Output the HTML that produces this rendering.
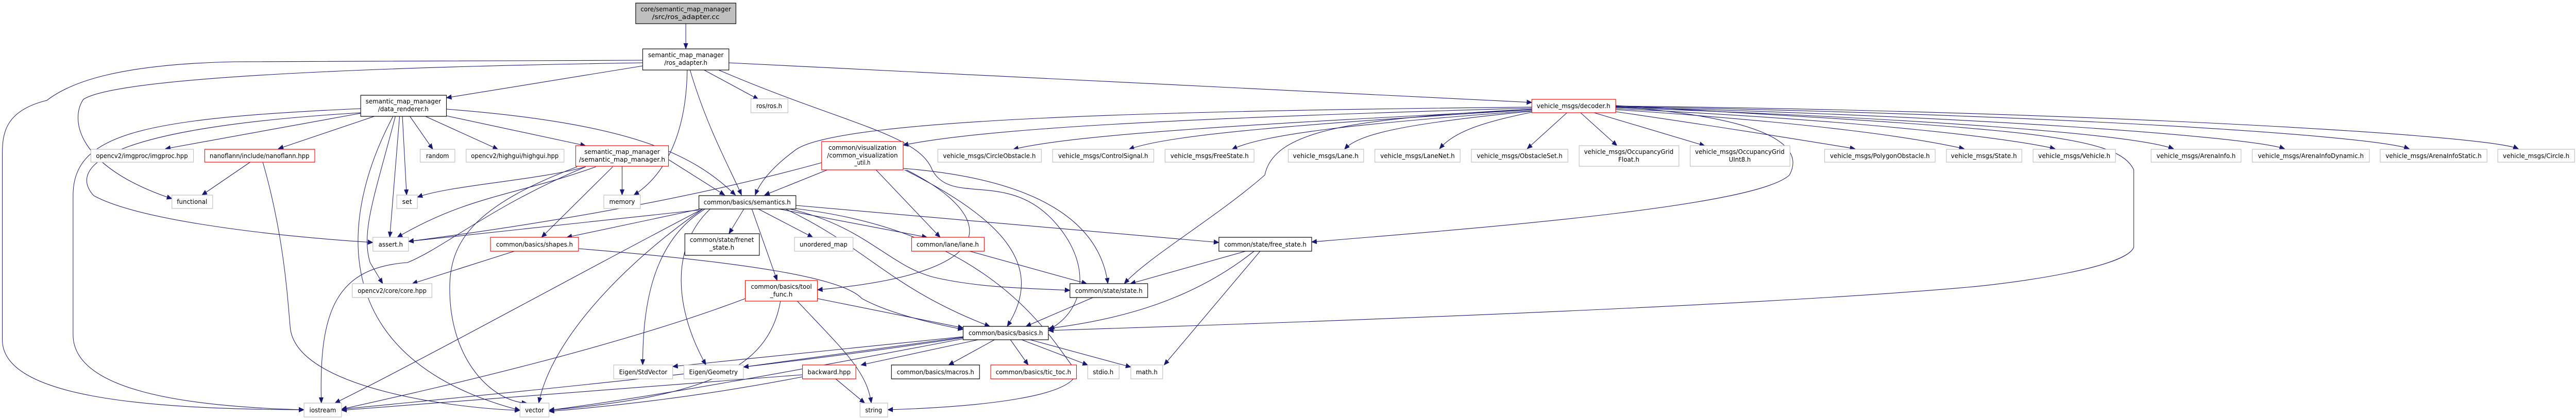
<!DOCTYPE html>
<html><head><meta charset="utf-8"><style>
html,body{margin:0;padding:0;background:#fff;overflow:hidden;}
svg{display:block;width:100vw;height:100vh;}
text{font-family:"DejaVu Sans","Liberation Sans",sans-serif;font-size:12.5px;fill:#000;}
.e{fill:none;stroke:#191970;stroke-width:1.1;}
.k{fill:#fff;stroke:#000;stroke-width:1.2;}
.g{fill:#fff;stroke:#bfbfbf;stroke-width:1.2;}
.r{fill:#fff;stroke:#ff0000;stroke-width:1.2;}
</style></head><body>
<svg viewBox="0 0 5499 812" preserveAspectRatio="none" xmlns="http://www.w3.org/2000/svg">
<defs><marker id="a" markerUnits="userSpaceOnUse" markerWidth="12" markerHeight="10" refX="11" refY="5" orient="auto"><path d="M0,0 L12,5 L0,10 Z" fill="#191970"/></marker></defs>
<g class="e" marker-end="url(#a)">
<path d="M1464,46 L1464,95"/>
<path d="M1503,136 L1619,193"/>
<path d="M1473,136 C1510,250 1560,330 1583,379"/>
<path d="M1467,136 C1465,260 1420,340 1353,379"/>
<path d="M1556,122 L3270,199"/>
<path d="M1534,136 C1800,240 1960,260 1990,330 C2030,400 2150,330 2250,430 C2330,510 2320,600 2240,640"/>
<path d="M1372,128 L953,190"/>
<path d="M1372,117 L500,120 C250,125 150,160 100,195 C10,215 5,260 5,300 L5,660 C5,770 300,795 649,796"/>
<path d="M1372,122 C800,130 250,150 178,193 C150,230 160,323 367,386"/>
<path d="M770,220 L353,289"/>
<path d="M799,226 L594,289"/>
<path d="M875,226 L924,290"/>
<path d="M908,226 L1063,290"/>
<path d="M953,225 L1250,283"/>
<path d="M859,226 L868,379"/>
<path d="M853,226 L832,461"/>
<path d="M844,226 C800,380 770,450 790,510 L817,551"/>
<path d="M839,226 C720,430 700,700 1110,797"/>
<path d="M770,211 C300,230 156,260 156,380 L156,650 C156,760 400,790 649,796"/>
<path d="M770,219 C200,250 150,330 200,380 C300,430 600,460 796,471"/>
<path d="M953,212 C1350,240 1480,300 1570,379"/>
<path d="M534,315 L431,379"/>
<path d="M561,315 C610,470 615,600 620,640 C640,760 1000,795 1110,797"/>
<path d="M1328,323 L1328,379"/>
<path d="M1250,324 C1150,350 960,360 891,383"/>
<path d="M1272,324 C1100,380 1000,380 848,461"/>
<path d="M1308,324 L1156,461"/>
<path d="M1250,324 C1050,400 950,480 870,510 C720,520 680,600 686,783"/>
<path d="M1232,324 C1010,400 960,470 960,560 C960,700 1050,780 1125,783"/>
<path d="M1427,310 L1547,379"/>
<path d="M1098,488 L880,551"/>
<path d="M1235,483 C1600,510 1800,540 1840,580 C1900,610 2000,630 2056,640"/>
<path d="M1588,406 L1556,454"/>
<path d="M1619,406 L1735,461"/>
<path d="M1663,406 L1979,461"/>
<path d="M1699,399 L2602,471"/>
<path d="M1686,406 C1850,440 1900,520 2000,540 C2100,560 2200,560 2284,564"/>
<path d="M1605,406 L1659,545"/>
<path d="M1677,406 C1850,480 1900,560 2113,634"/>
<path d="M1686,404 C2150,450 2260,690 2298,720 C2300,770 2100,790 1895,796"/>
<path d="M1516,406 C1430,480 1440,600 1507,709"/>
<path d="M1492,408 L872,469"/>
<path d="M1495,406 L1210,461"/>
<path d="M1500,406 C1300,500 900,700 715,783"/>
<path d="M1500,406 C1350,500 1180,650 1150,783"/>
<path d="M1505,406 C1390,470 1372,600 1372,709"/>
<path d="M1766,330 L1632,379"/>
<path d="M1870,330 L2007,461"/>
<path d="M1927,327 C2250,350 2350,450 2365,551"/>
<path d="M1931,330 C2150,430 2230,520 2150,634"/>
<path d="M1935,330 C2130,420 2150,530 1745,563"/>
<path d="M1754,316 C1500,380 1200,430 872,469"/>
<path d="M2070,488 L2320,551"/>
<path d="M2659,488 L2413,551"/>
<path d="M2677,488 C2550,580 2400,620 2238,638"/>
<path d="M2690,488 L2485,709"/>
<path d="M2333,578 L2190,634"/>
<path d="M1745,580 L2056,637"/>
<path d="M1702,585 C1800,680 1850,720 1860,783"/>
<path d="M1666,585 C1640,720 1500,770 1172,797"/>
<path d="M1591,580 C1300,680 900,760 729,795"/>
<path d="M2123,660 L2025,709"/>
<path d="M2157,660 L2195,709"/>
<path d="M2181,660 L2322,709"/>
<path d="M2199,660 L2414,713"/>
<path d="M2088,660 L1838,709"/>
<path d="M2056,655 L1587,713"/>
<path d="M2056,654 L1436,712"/>
<path d="M2056,658 C1700,720 1400,770 1172,797"/>
<path d="M2056,656 C1600,720 1000,770 729,795"/>
<path d="M1784,736 L1846,783"/>
<path d="M1713,728 L729,797"/>
<path d="M1713,732 C1500,770 1300,790 1172,799"/>
<path d="M3449,207 C3800,230 3850,290 3820,340 C3750,400 3200,440 2800,470"/>
<path d="M3449,205 C4300,250 4520,260 4555,330 L4555,480 C4540,520 4300,550 4200,558 C3800,590 3000,620 2238,642"/>
<path d="M3270,208 C2500,215 1800,230 1700,290 C1640,330 1620,360 1612,379"/>
<path d="M3270,210 C2500,230 2100,250 1928,282"/>
<path d="M3270,212 C2900,230 2720,250 2700,340 C2600,420 2450,500 2400,551"/>
<path d="M3270,213 C2700,240 2300,260 2163,290"/>
<path d="M3270,213 C2800,240 2500,260 2410,290"/>
<path d="M3270,215 C2900,240 2700,260 2630,290"/>
<path d="M3270,216 C3000,240 2900,260 2870,290"/>
<path d="M3270,218 C3150,240 3100,260 3073,289"/>
<path d="M3345,219 L3260,289"/>
<path d="M3374,219 L3452,283"/>
<path d="M3403,219 L3639,283"/>
<path d="M3449,217 C3700,250 3900,280 3960,289"/>
<path d="M3449,213 C3900,240 4100,270 4193,289"/>
<path d="M3449,211 C4000,235 4300,270 4387,289"/>
<path d="M3449,209 C4100,230 4550,260 4640,289"/>
<path d="M3449,208 C4200,225 4800,265 4877,289"/>
<path d="M3449,207 C4300,220 5050,260 5143,289"/>
<path d="M3449,206 C4400,215 5300,260 5376,289"/>
</g>
<g>
<rect x="1357" y="6" width="214" height="40" fill="#bfbfbf" stroke="#000" stroke-width="1.2"/>
<text x="1464" y="22" text-anchor="middle" textLength="193" lengthAdjust="spacingAndGlyphs">core/semantic_map_manager</text>
<text x="1464" y="37" text-anchor="middle" textLength="144" lengthAdjust="spacingAndGlyphs">/src/ros_adapter.cc</text>
<rect class="k" x="1372" y="95" width="184" height="41"/>
<text x="1464" y="111" text-anchor="middle" textLength="161" lengthAdjust="spacingAndGlyphs">semantic_map_manager</text>
<text x="1464" y="126" text-anchor="middle" textLength="92" lengthAdjust="spacingAndGlyphs">/ros_adapter.h</text>
<rect class="k" x="770" y="185" width="183" height="41"/>
<text x="861" y="201" text-anchor="middle" textLength="161" lengthAdjust="spacingAndGlyphs">semantic_map_manager</text>
<text x="861" y="216" text-anchor="middle" textLength="108" lengthAdjust="spacingAndGlyphs">/data_renderer.h</text>
<rect class="r" x="1229" y="283" width="198" height="40"/>
<text x="1328" y="299" text-anchor="middle" textLength="161" lengthAdjust="spacingAndGlyphs">semantic_map_manager</text>
<text x="1328" y="314" text-anchor="middle" textLength="184" lengthAdjust="spacingAndGlyphs">/semantic_map_manager.h</text>
<rect class="r" x="1754" y="275" width="174" height="55"/>
<text x="1841" y="291" text-anchor="middle" textLength="145" lengthAdjust="spacingAndGlyphs">common/visualization</text>
<text x="1841" y="306" text-anchor="middle" textLength="151" lengthAdjust="spacingAndGlyphs">/common_visualization</text>
<text x="1841" y="320" text-anchor="middle" textLength="34" lengthAdjust="spacingAndGlyphs">_util.h</text>
<rect class="k" x="1462" y="454" width="159" height="42"/>
<text x="1541" y="470" text-anchor="middle" textLength="137" lengthAdjust="spacingAndGlyphs">common/state/frenet</text>
<text x="1541" y="485" text-anchor="middle" textLength="53" lengthAdjust="spacingAndGlyphs">_state.h</text>
<rect class="r" x="1591" y="545" width="154" height="40"/>
<text x="1668" y="561" text-anchor="middle" textLength="130" lengthAdjust="spacingAndGlyphs">common/basics/tool</text>
<text x="1668" y="576" text-anchor="middle" textLength="48" lengthAdjust="spacingAndGlyphs">_func.h</text>
<rect class="g" x="3371" y="283" width="213" height="40"/>
<text x="3477" y="299" text-anchor="middle" textLength="191" lengthAdjust="spacingAndGlyphs">vehicle_msgs/OccupancyGrid</text>
<text x="3477" y="314" text-anchor="middle" textLength="45" lengthAdjust="spacingAndGlyphs">Float.h</text>
<rect class="g" x="3608" y="283" width="213" height="40"/>
<text x="3714" y="299" text-anchor="middle" textLength="191" lengthAdjust="spacingAndGlyphs">vehicle_msgs/OccupancyGrid</text>
<text x="3714" y="314" text-anchor="middle" textLength="47" lengthAdjust="spacingAndGlyphs">UInt8.h</text>
</g>
<g>
<rect class="g" x="194" y="290" width="219" height="25"/><text x="303" y="307" text-anchor="middle" textLength="196" lengthAdjust="spacingAndGlyphs">opencv2/imgproc/imgproc.hpp</text>
<rect class="r" x="437" y="290" width="235" height="25"/><text x="554" y="307" text-anchor="middle" textLength="213" lengthAdjust="spacingAndGlyphs">nanoflann/include/nanoflann.hpp</text>
<rect class="g" x="897" y="290" width="74" height="25"/><text x="934" y="307" text-anchor="middle" textLength="49" lengthAdjust="spacingAndGlyphs">random</text>
<rect class="g" x="995" y="290" width="209" height="25"/><text x="1099" y="307" text-anchor="middle" textLength="187" lengthAdjust="spacingAndGlyphs">opencv2/highgui/highgui.hpp</text>
<rect class="g" x="367" y="379" width="87" height="26"/><text x="410" y="396" text-anchor="middle" textLength="65" lengthAdjust="spacingAndGlyphs">functional</text>
<rect class="g" x="847" y="379" width="44" height="26"/><text x="869" y="396" text-anchor="middle" textLength="21" lengthAdjust="spacingAndGlyphs">set</text>
<rect class="g" x="1289" y="379" width="78" height="26"/><text x="1328" y="396" text-anchor="middle" textLength="55" lengthAdjust="spacingAndGlyphs">memory</text>
<rect class="g" x="796" y="461" width="76" height="27"/><text x="834" y="479" text-anchor="middle" textLength="52" lengthAdjust="spacingAndGlyphs">assert.h</text>
<rect class="r" x="1047" y="461" width="188" height="27"/><text x="1141" y="479" text-anchor="middle" textLength="164" lengthAdjust="spacingAndGlyphs">common/basics/shapes.h</text>
<rect class="g" x="752" y="551" width="170" height="27"/><text x="837" y="569" text-anchor="middle" textLength="147" lengthAdjust="spacingAndGlyphs">opencv2/core/core.hpp</text>
<rect class="g" x="649" y="783" width="80" height="27"/><text x="689" y="801" text-anchor="middle" textLength="57" lengthAdjust="spacingAndGlyphs">iostream</text>
<rect class="g" x="1110" y="783" width="62" height="27"/><text x="1141" y="801" text-anchor="middle" textLength="40" lengthAdjust="spacingAndGlyphs">vector</text>
<rect class="g" x="1310" y="709" width="126" height="27"/><text x="1373" y="727" text-anchor="middle" textLength="103" lengthAdjust="spacingAndGlyphs">Eigen/StdVector</text>
<rect class="g" x="1603" y="192" width="79" height="27"/><text x="1642" y="210" text-anchor="middle" textLength="55" lengthAdjust="spacingAndGlyphs">ros/ros.h</text>
<rect class="g" x="2002" y="290" width="221" height="25"/><text x="2112" y="307" text-anchor="middle" textLength="198" lengthAdjust="spacingAndGlyphs">vehicle_msgs/CircleObstacle.h</text>
<rect class="g" x="2247" y="290" width="216" height="25"/><text x="2355" y="307" text-anchor="middle" textLength="192" lengthAdjust="spacingAndGlyphs">vehicle_msgs/ControlSignal.h</text>
<rect class="g" x="2487" y="290" width="190" height="25"/><text x="2582" y="307" text-anchor="middle" textLength="167" lengthAdjust="spacingAndGlyphs">vehicle_msgs/FreeState.h</text>
<rect class="g" x="2750" y="290" width="161" height="25"/><text x="2830" y="307" text-anchor="middle" textLength="140" lengthAdjust="spacingAndGlyphs">vehicle_msgs/Lane.h</text>
<rect class="k" x="1492" y="380" width="207" height="26"/><text x="1595" y="397" text-anchor="middle" textLength="186" lengthAdjust="spacingAndGlyphs">common/basics/semantics.h</text>
<rect class="g" x="1696" y="461" width="125" height="27"/><text x="1758" y="479" text-anchor="middle" textLength="102" lengthAdjust="spacingAndGlyphs">unordered_map</text>
<rect class="r" x="1946" y="461" width="155" height="27"/><text x="2023" y="479" text-anchor="middle" textLength="133" lengthAdjust="spacingAndGlyphs">common/lane/lane.h</text>
<rect class="k" x="2602" y="461" width="198" height="27"/><text x="2701" y="479" text-anchor="middle" textLength="176" lengthAdjust="spacingAndGlyphs">common/state/free_state.h</text>
<rect class="k" x="2284" y="551" width="166" height="27"/><text x="2367" y="569" text-anchor="middle" textLength="144" lengthAdjust="spacingAndGlyphs">common/state/state.h</text>
<rect class="k" x="2056" y="634" width="182" height="26"/><text x="2147" y="651" text-anchor="middle" textLength="159" lengthAdjust="spacingAndGlyphs">common/basics/basics.h</text>
<rect class="g" x="1460" y="709" width="127" height="27"/><text x="1523" y="727" text-anchor="middle" textLength="104" lengthAdjust="spacingAndGlyphs">Eigen/Geometry</text>
<rect class="r" x="1713" y="709" width="114" height="27"/><text x="1770" y="727" text-anchor="middle" textLength="92" lengthAdjust="spacingAndGlyphs">backward.hpp</text>
<rect class="k" x="1903" y="709" width="188" height="27"/><text x="1997" y="727" text-anchor="middle" textLength="165" lengthAdjust="spacingAndGlyphs">common/basics/macros.h</text>
<rect class="r" x="2115" y="709" width="183" height="27"/><text x="2206" y="727" text-anchor="middle" textLength="161" lengthAdjust="spacingAndGlyphs">common/basics/tic_toc.h</text>
<rect class="g" x="2322" y="709" width="67" height="27"/><text x="2355" y="727" text-anchor="middle" textLength="44" lengthAdjust="spacingAndGlyphs">stdio.h</text>
<rect class="g" x="2414" y="709" width="68" height="27"/><text x="2448" y="727" text-anchor="middle" textLength="46" lengthAdjust="spacingAndGlyphs">math.h</text>
<rect class="g" x="1836" y="783" width="59" height="27"/><text x="1865" y="801" text-anchor="middle" textLength="36" lengthAdjust="spacingAndGlyphs">string</text>
<rect class="r" x="3270" y="193" width="179" height="26"/><text x="3359" y="210" text-anchor="middle" textLength="157" lengthAdjust="spacingAndGlyphs">vehicle_msgs/decoder.h</text>
<rect class="g" x="2935" y="290" width="182" height="25"/><text x="3026" y="307" text-anchor="middle" textLength="159" lengthAdjust="spacingAndGlyphs">vehicle_msgs/LaneNet.h</text>
<rect class="g" x="3141" y="290" width="206" height="25"/><text x="3244" y="307" text-anchor="middle" textLength="183" lengthAdjust="spacingAndGlyphs">vehicle_msgs/ObstacleSet.h</text>
<rect class="g" x="3895" y="290" width="236" height="25"/><text x="4013" y="307" text-anchor="middle" textLength="213" lengthAdjust="spacingAndGlyphs">vehicle_msgs/PolygonObstacle.h</text>
<rect class="g" x="4155" y="290" width="161" height="25"/><text x="4235" y="307" text-anchor="middle" textLength="141" lengthAdjust="spacingAndGlyphs">vehicle_msgs/State.h</text>
<rect class="g" x="4340" y="290" width="176" height="25"/><text x="4428" y="307" text-anchor="middle" textLength="154" lengthAdjust="spacingAndGlyphs">vehicle_msgs/Vehicle.h</text>
<rect class="g" x="4592" y="290" width="192" height="25"/><text x="4688" y="307" text-anchor="middle" textLength="169" lengthAdjust="spacingAndGlyphs">vehicle_msgs/ArenaInfo.h</text>
<rect class="g" x="4808" y="290" width="250" height="25"/><text x="4933" y="307" text-anchor="middle" textLength="226" lengthAdjust="spacingAndGlyphs">vehicle_msgs/ArenaInfoDynamic.h</text>
<rect class="g" x="5081" y="290" width="228" height="25"/><text x="5195" y="307" text-anchor="middle" textLength="205" lengthAdjust="spacingAndGlyphs">vehicle_msgs/ArenaInfoStatic.h</text>
<rect class="g" x="5332" y="290" width="164" height="25"/><text x="5414" y="307" text-anchor="middle" textLength="142" lengthAdjust="spacingAndGlyphs">vehicle_msgs/Circle.h</text>
</g>
</svg>
</body></html>
